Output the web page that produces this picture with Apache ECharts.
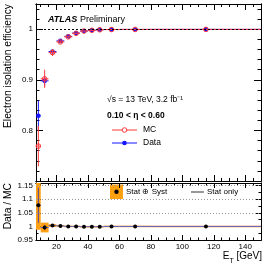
<!DOCTYPE html>
<html><head><meta charset="utf-8">
<script src="https://cdn.jsdelivr.net/npm/echarts@6/dist/echarts.min.js"></script>
<style>html,body{margin:0;padding:0;background:#fff}#c{width:265px;height:267px}</style>
</head><body><div id="c"></div>
<script>
// ---- data ----
const binLo   = [7, 10, 15, 20, 25, 30, 35, 40, 45, 50, 60, 80];
const binHi   = [10, 15, 20, 25, 30, 35, 40, 45, 50, 60, 80, 150];
const etCenter= [8.5, 12.5, 17.5, 22.5, 27.5, 32.5, 37.5, 42.5, 47.5, 55, 70, 115];
const dataEff = [0.829, 0.898, 0.956, 0.977, 0.986, 0.9925, 0.9965, 0.998, 0.999, 0.9995, 0.9997, 0.9998];
const dataErr = [0.030, 0.010, 0.005, 0.003, 0.002, 0.0015, 0.001, 0.001, 0.001, 0.0008, 0.0006, 0.0006];
const mcEff   = [0.769, 0.902, 0.954, 0.975, 0.985, 0.992, 0.9965, 0.998, 0.999, 0.9995, 0.9997, 0.9998];
const mcErr   = [0.040, 0.018, 0.007, 0.003, 0.002, 0.0015, 0.001, 0.001, 0.001, 0.0008, 0.0006, 0.0006];
const ratio   = [1.078, 0.996, 1.003, 1.002, 1.0, 1.0, 0.999, 0.999, 0.999, 1.0, 1.0, 1.0];
const ratioStat = [0.065, 0.010, 0.004, 0.002, 0.0015, 0.001, 0.001, 0.001, 0.001, 0.0008, 0.0006, 0.0006];
const ratioSyst = [0.090, 0.018, 0.005, 0.003, 0.002, 0.002, 0.0015, 0.0015, 0.0015, 0.0012, 0.0012, 0.0012];
const xMajor = [20, 40, 60, 80, 100, 120, 140];
const xMinor = [10, 15, 25, 30, 35, 45, 50, 55, 65, 70, 75, 85, 90, 95, 105, 110, 115, 125, 130, 135, 145, 150];
const yTopMajor = [0.7, 0.8, 0.9, 1.0];
const yTopLabelVals = [0.8, 0.9, 1.0];
const yTopLabels = ['0.8', '0.9', '1'];
const yTopMinor = [0.72,0.74,0.76,0.78,0.82,0.84,0.86,0.88,0.92,0.94,0.96,0.98,1.02,1.04];
const yBotMajor = [0.95, 1.0, 1.05, 1.1, 1.15];
const yBotLabels = ['0.95', '1', '1.05', '1.1', '1.15'];
const yBotMinor = [0.975, 1.025, 1.075, 1.125];
const ratioGrid = [1.05, 1.1, 1.15];

const FONT = 'Liberation Sans, Arial, Helvetica, sans-serif';
const X_MIN = 7, X_MAX = 150, YT_MIN = 0.7, YT_MAX = 1.05, YB_MIN = 0.95, YB_MAX = 1.16;

function xAx(grid, pos, ticks, len, labels) {
  return {type:'value', gridIndex:grid, position:pos, min:X_MIN, max:X_MAX,
    axisLine:{show:true, onZero:false, lineStyle:{color:'#000', width:1}},
    axisTick:{show:true, inside:true, length:len, customValues:ticks, lineStyle:{color:'#000', width:1}},
    axisLabel:{show:!!labels, customValues: labels || ticks, fontSize:8, fontFamily:FONT, color:'#000', margin:3},
    splitLine:{show:false}};
}
function yAx(grid, pos, min, max, ticks, len, interval, labVals, labTxt) {
  const ax = {type:'value', gridIndex:grid, position:pos, min:min, max:max,
    axisLine:{show:true, onZero:false, lineStyle:{color:'#000', width:1}},
    axisTick:{show:true, inside:true, length:len, customValues:ticks, lineStyle:{color:'#000', width:1}},
    axisLabel:{show:false},
    splitLine:{show:false}};
  if (labVals) {
    ax.interval = interval;
    ax.axisLabel = {show:true, fontSize:8, fontFamily:FONT, color:'#000', margin:3,
      formatter: v => { const k = labVals.findIndex(t => Math.abs(t - v) < 1e-6); return k < 0 ? '' : labTxt[k]; }};
  }
  return ax;
}

const xAxis = [
  xAx(0,'bottom',xMajor,6), xAx(0,'bottom',xMinor,3), xAx(0,'top',xMajor,6), xAx(0,'top',xMinor,3),
  xAx(1,'bottom',xMajor,5,xMajor), xAx(1,'bottom',xMinor,2.5), xAx(1,'top',xMajor,5), xAx(1,'top',xMinor,2.5)
];
const yAxis = [
  yAx(0,'left',YT_MIN,YT_MAX,yTopMajor,7), yAx(0,'left',YT_MIN,YT_MAX,yTopMinor,3.5),
  yAx(0,'right',YT_MIN,YT_MAX,yTopMajor,7), yAx(0,'right',YT_MIN,YT_MAX,yTopMinor,3.5),
  yAx(1,'left',YB_MIN,YB_MAX,yBotMajor,5,0.05,yBotMajor,yBotLabels), yAx(1,'left',YB_MIN,YB_MAX,yBotMinor,2.5),
  yAx(1,'right',YB_MIN,YB_MAX,yBotMajor,5), yAx(1,'right',YB_MIN,YB_MAX,yBotMinor,2.5)
];

function clamp(v, a, b){ return Math.max(a, Math.min(b, v)); }

function errSeries(name, xi, yi, vals, errs, color, open, ymin, ymax, r) {
  const data = etCenter.map((c,i) => [c, vals[i], binLo[i], binHi[i], errs[i]]);
  return {type:'custom', name:name, xAxisIndex:xi, yAxisIndex:yi, data:data, silent:true,
    renderItem:(params, api) => {
      const x = api.value(0), y = api.value(1), lo = api.value(2), hi = api.value(3), e = api.value(4);
      const pL = api.coord([lo, y]), pR = api.coord([hi, y]);
      const pT = api.coord([x, clamp(y + e, ymin, ymax)]), pB = api.coord([x, clamp(y - e, ymin, ymax)]);
      const pc = api.coord([x, y]);
      const ls = {stroke: color, lineWidth: 1};
      return {type:'group', children:[
        {type:'line', shape:{x1:pL[0], y1:pL[1], x2:pR[0], y2:pR[1]}, style:ls},
        {type:'line', shape:{x1:pT[0], y1:pT[1], x2:pB[0], y2:pB[1]}, style:ls},
        {type:'circle', shape:{cx:pc[0], cy:pc[1], r:r},
          style: open ? {fill:'none', stroke:color, lineWidth:1} : {fill:color}}
      ]};
    }};
}

const series = [
  {type:'line', xAxisIndex:0, yAxisIndex:0, data:[], silent:true,
    markLine:{silent:true, symbol:'none', label:{show:false},
      lineStyle:{color:'#000', width:1, type:[2,2]}, data:[{yAxis:1}]}},
  errSeries('Data', 0, 0, dataEff, dataErr, '#1515ff', false, YT_MIN, YT_MAX, 2.3),
  errSeries('MC', 0, 0, mcEff, mcErr, '#ff3b3b', true, YT_MIN, YT_MAX, 2.3),
  {type:'line', xAxisIndex:4, yAxisIndex:4, data:[], silent:true,
    markLine:{silent:true, symbol:'none', label:{show:false},
      lineStyle:{color:'#9a9a9a', width:1, type:[1,2]}, data: ratioGrid.map(v => ({yAxis:v}))}},
  {type:'custom', xAxisIndex:4, yAxisIndex:4, silent:true,
    data: etCenter.map((c,i) => [binLo[i], binHi[i], ratio[i], ratioSyst[i]]),
    renderItem:(params, api) => {
      const lo = api.value(0), hi = api.value(1), r = api.value(2), s = api.value(3);
      const p1 = api.coord([lo, clamp(r + s, YB_MIN, YB_MAX)]);
      const p2 = api.coord([hi, clamp(r - s, YB_MIN, YB_MAX)]);
      let h = p2[1] - p1[1], y0 = p1[1];
      if (h < 1.5) { y0 = (p1[1] + p2[1]) / 2 - 0.75; h = 1.5; }
      return {type:'rect', shape:{x:p1[0], y:y0, width:p2[0]-p1[0], height:h}, style:{fill:'#ffa010'}};
    }},
  {type:'custom', xAxisIndex:4, yAxisIndex:4, silent:true,
    data: etCenter.map((c,i) => [c, ratio[i], binLo[i], binHi[i], ratioStat[i]]),
    renderItem:(params, api) => {
      const x = api.value(0), y = api.value(1), lo = api.value(2), hi = api.value(3), e = api.value(4);
      const pL = api.coord([lo, y]), pR = api.coord([hi, y]);
      const pT = api.coord([x, clamp(y + e, YB_MIN, YB_MAX)]), pB = api.coord([x, clamp(y - e, YB_MIN, YB_MAX)]);
      const pc = api.coord([x, y]);
      return {type:'group', children:[
        {type:'line', shape:{x1:pL[0], y1:pL[1], x2:pR[0], y2:pR[1]}, style:{stroke:'#5f5fc8', lineWidth:1}},
        {type:'line', shape:{x1:pT[0], y1:pT[1], x2:pB[0], y2:pB[1]}, style:{stroke:'#5a4a9a', lineWidth:1}},
        {type:'circle', shape:{cx:pc[0], cy:pc[1], r:2}, style:{fill:'#000'}}
      ]};
    }}
];

const graphic = [
  {type:'text', x:48, y:20, style:{text:'ATLAS', font:'italic bold 9px ' + FONT, fill:'#000', textVerticalAlign:'middle'}},
  {type:'text', x:80, y:20, style:{text:'Preliminary', font:'9px ' + FONT, fill:'#000', textVerticalAlign:'middle'}},
  {type:'text', x:107, y:100, style:{text:'\u221As = 13 TeV, 3.2 fb\u207B\u00B9', font:'8.5px ' + FONT, fill:'#000', textVerticalAlign:'middle'}},
  {type:'text', x:107, y:116, style:{text:'0.10 < \u03B7 < 0.60', font:'bold 8.5px ' + FONT, fill:'#000', textVerticalAlign:'middle'}},
  // top legend
  {type:'line', shape:{x1:112, y1:130, x2:137, y2:130}, style:{stroke:'#ff3b3b', lineWidth:1}},
  {type:'circle', shape:{cx:124.5, cy:130, r:2.3}, style:{fill:'#fff', stroke:'#ff3b3b', lineWidth:1}},
  {type:'text', x:143, y:130, style:{text:'MC', font:'8.5px ' + FONT, fill:'#000', textVerticalAlign:'middle'}},
  {type:'line', shape:{x1:112, y1:143, x2:137, y2:143}, style:{stroke:'#1515ff', lineWidth:1}},
  {type:'circle', shape:{cx:124.5, cy:143, r:2.3}, style:{fill:'#1515ff'}},
  {type:'text', x:143, y:143, style:{text:'Data', font:'8.5px ' + FONT, fill:'#000', textVerticalAlign:'middle'}},
  // bottom legend
  {type:'rect', shape:{x:110, y:184.5, width:13, height:14.5}, style:{fill:'#ffa010'}},
  {type:'circle', shape:{cx:116.5, cy:191.8, r:2.2}, style:{fill:'#000'}},
  {type:'text', x:126, y:192, style:{text:'Stat \u2295 Syst', font:'8px ' + FONT, fill:'#000', textVerticalAlign:'middle'}},
  {type:'line', shape:{x1:191, y1:192, x2:204, y2:192}, style:{stroke:'#333', lineWidth:1}},
  {type:'text', x:207, y:192, style:{text:'Stat only', font:'8px ' + FONT, fill:'#000', textVerticalAlign:'middle'}},
  // axis titles
  {type:'text', x:8, y:4, rotation:Math.PI/2, style:{text:'Electron isolation efficiency', font:'10.3px ' + FONT, fill:'#000', textAlign:'right', textVerticalAlign:'middle'}},
  {type:'text', x:8, y:183, rotation:Math.PI/2, style:{text:'Data / MC', font:'10.3px ' + FONT, fill:'#000', textAlign:'right', textVerticalAlign:'middle'}},
  {type:'text', x:262, y:258, style:{textAlign:'right', textVerticalAlign:'middle', font:'10px ' + FONT, fill:'#000',
    text:'{e|E}{t|T}{e| [GeV]}',
    rich:{e:{fontSize:10, fontFamily:FONT, verticalAlign:'top', lineHeight:13}, t:{fontSize:7, fontFamily:FONT, verticalAlign:'bottom', lineHeight:13}}}}
];

const chart = echarts.init(document.getElementById('c'), null, {renderer:'canvas'});
chart.setOption({
  animation:false,
  backgroundColor:'#fff',
  grid:[{left:36, top:4, width:225, height:177, containLabel:false},
        {left:36, top:183, width:225, height:57, containLabel:false}],
  xAxis:xAxis, yAxis:yAxis, series:series, graphic:graphic
});
// top-panel y tick labels, placed through the axis scale
const leftX = chart.convertToPixel({xAxisIndex:0}, X_MIN);
const topLabels = yTopLabelVals.map((v, i) => ({
  type:'text', x:leftX - 3, y:chart.convertToPixel({yAxisIndex:0}, v),
  style:{text:yTopLabels[i], font:'8px ' + FONT, fill:'#000', textAlign:'right', textVerticalAlign:'middle'}}));
chart.setOption({graphic: graphic.concat(topLabels)});
</script></body></html>
